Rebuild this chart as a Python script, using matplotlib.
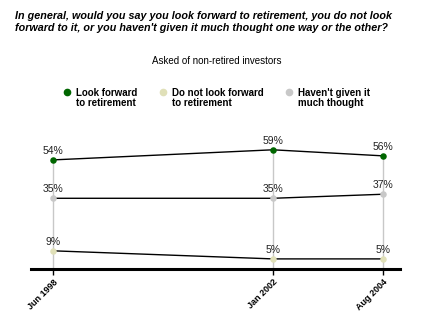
import matplotlib
matplotlib.use("Agg")
import matplotlib.pyplot as plt
from matplotlib.lines import Line2D

plt.rcParams["font.family"] = ["Liberation Sans", "DejaVu Sans"]

# survey waves (uneven spacing as in the original chart)
waves = ["Jun 1998", "Jan 2002", "Aug 2004"]
wave_pos = [0, 2, 3]

look_forward = [54, 59, 56]
not_look = [9, 5, 5]
not_thought = [35, 35, 37]

series_names = ["Look forward\nto retirement", "Do not look forward\nto retirement",
                "Haven't given it\nmuch thought"]
series_colors = ["#006600", "#E0E0B8", "#C8C8C8"]

TITLE = ("In general, would you say you look forward to retirement, you do not look\n"
         "forward to it, or you haven't given it much thought one way or the other?")
SUBTITLE = "Asked of non-retired investors"

fig = plt.figure(figsize=(4.4, 3.3), dpi=100)
ax = fig.add_axes([31 / 440, 61 / 330, 369 / 440, 139 / 330])

series = [look_forward, not_look, not_thought]

# grey drop lines from axis up to the top value of each wave
for i, x in enumerate(wave_pos):
    top = max(s[i] for s in series)
    ax.plot([x, x], [0, top], color="#C8C8C8", lw=1, zorder=1)

for vals, col in zip(series, series_colors):
    ax.plot(wave_pos, vals, color="black", lw=1, zorder=2)
    ax.scatter(wave_pos, vals, s=22, color=col, zorder=3, linewidths=0)
    for x, v in zip(wave_pos, vals):
        ax.annotate(f"{v}%", (x, v), xytext=(0, 3), textcoords="offset points",
                    ha="center", va="bottom", fontsize=7.5, color="#222222")

ax.set_xlim(-0.2, 3.155)
ax.set_ylim(0, 68.8)
for s in ["top", "right", "left"]:
    ax.spines[s].set_visible(False)
ax.spines["bottom"].set_linewidth(2.2)
ax.set_yticks([])
ax.set_xticks(wave_pos)
ax.set_xticklabels(waves, rotation=45, ha="right", rotation_mode="anchor",
                   fontsize=6.5, fontweight="bold")
ax.tick_params(axis="x", length=4, width=1, pad=2)

fig.text(15 / 440, 1 - 11 / 330, TITLE, ha="left", va="top", fontsize=7.75,
         fontweight="bold", fontstyle="italic", linespacing=1.2)
fig.text(217 / 440, 1 - 61 / 330, SUBTITLE, ha="center", va="center", fontsize=7)

leg_x = [67, 163, 289]
for name, x, c in zip(series_names, leg_x, series_colors):
    fig.lines.append(Line2D([x / 440], [1 - 92 / 330], marker="o", ls="", color=c,
                            markersize=4.5, transform=fig.transFigure))
    fig.text((x + 9) / 440, 1 - 87.5 / 330, name, ha="left", va="top", fontsize=7,
             fontweight="bold", linespacing=1.05)

fig.savefig("out.png", dpi=100)
